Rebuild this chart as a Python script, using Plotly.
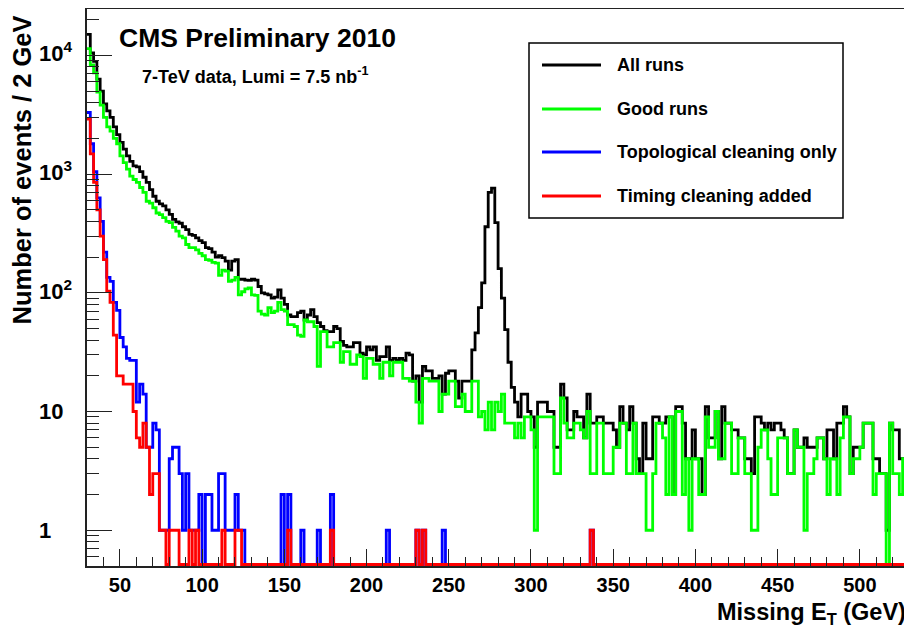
import math
import plotly.graph_objects as go

# ---------------- data ----------------
BIN_START = 30      # GeV, low edge of first bin
BIN_WIDTH = 2       # GeV
N_BINS = 250

series_names = ["All runs", "Good runs", "Topological cleaning only", "Timing cleaning added"]

all_runs = [
    15000, 10500, 8900, 6300, 5000, 3900, 3400, 3000, 2500, 2150,
    1850, 1620, 1420, 1280, 1170, 1150, 1050, 940, 850, 740,
    650, 590, 560, 540, 500, 458, 415, 395, 385, 360,
    340, 310, 305, 290, 275, 265, 240, 235, 220, 200,
    205, 198, 185, 155, 185, 190, 130, 130, 128, 127,
    130, 128, 113, 100, 98, 96, 90, 92, 106, 90,
    80, 65, 63, 63, 68, 70, 59, 65, 72, 63,
    56, 52, 48, 47, 47, 52, 50, 39, 36, 35,
    35, 38, 38, 31, 30, 35, 33, 35, 27, 29,
    29, 35, 27, 28, 27, 28, 27, 31, 30, 18,
    20, 12, 24, 22, 22, 19, 19, 20, 14, 21,
    22, 22, 18, 13, 18, 18, 18, 33, 46, 75,
    121, 360, 700, 760, 390, 160, 90, 49, 26, 16,
    12, 9, 14, 14, 10, 9, 5, 12, 12, 12,
    10, 10, 5, 5, 17, 13, 7, 7, 10, 9,
    9, 6, 14, 8, 8, 9, 9, 8, 8, 8,
    7, 5, 11, 8, 7, 11, 8, 4, 3, 8,
    4, 4, 9, 9, 8, 8, 9, 9, 2, 11,
    11, 8, 4, 4, 7, 4, 4, 2, 11, 6,
    6, 10, 4, 11, 8, 8, 7, 7, 6, 6,
    4, 4, 3, 9, 9, 8, 7, 8, 7, 8,
    8, 7, 6, 3, 3, 7, 5, 5, 6, 5,
    5, 5, 6, 6, 4, 7, 7, 4, 8, 8,
    11, 9, 3, 5, 5, 5, 8, 8, 8, 4,
    4, 3, 3, 1, 8, 7, 7, 4, 4, 4,
]

good_runs = [
    11400, 8300, 7100, 4900, 3800, 3000, 2500, 2300, 2000, 1800,
    1420, 1250, 1100, 960, 900, 850, 770, 700, 590, 570,
    520, 470, 455, 430, 400, 390, 355, 330, 300, 290,
    255, 240, 240, 230, 215, 205, 190, 188, 180, 178,
    140, 155, 152, 125, 128, 135, 96, 102, 108, 110,
    96, 95, 70, 66, 65, 75, 68, 70, 83, 72,
    70, 54, 54, 52, 44, 43, 59, 57, 57, 52,
    24, 47, 47, 35, 35, 38, 38, 26, 32, 32,
    25, 25, 30, 29, 19, 28, 28, 25, 25, 19,
    26, 26, 20, 26, 26, 26, 19, 19, 18, 18,
    12, 8, 19, 19, 18, 18, 18, 10, 14, 14,
    18, 18, 11, 11, 14, 10, 10, 18, 18, 9,
    10, 7, 12, 7, 12, 10, 14, 8, 8, 8,
    6, 8, 6, 9, 9, 7, 1, 9, 9, 9,
    9, 9, 3, 3, 13, 8, 6, 6, 8, 8,
    7, 6, 10, 3, 3, 8, 8, 3, 3, 3,
    5, 5, 8, 8, 3, 3, 8, 3, 3, 3,
    1, 1, 3, 8, 8, 6, 2, 9, 2, 10,
    10, 2, 4, 1, 4, 4, 2, 2, 9, 5,
    5, 10, 4, 4, 8, 8, 3, 3, 6, 6,
    3, 3, 1, 1, 5, 7, 7, 4, 2, 2,
    6, 6, 6, 3, 3, 7, 5, 5, 1, 3,
    3, 4, 6, 6, 4, 2, 4, 4, 2, 6,
    9, 9, 3, 4, 4, 5, 8, 8, 8, 2,
    3, 3, 3, 0, 8, 3, 3, 2, 4, 4,
]

# dense part (first bins) + sparse tail {bin low edge in GeV: count}
topo_head = [
    3300, 1800, 1050, 630, 400, 220, 135, 125, 83, 71,
    42, 35, 28, 27, 27, 12, 17, 14, 5, 5,
    8, 7, 1, 1, 1, 4, 5, 5, 3, 1,
    3, 1, 1, 1, 2, 0, 2, 2, 1, 1,
    3, 3, 1, 1, 1, 2, 1, 1,
]
topo_tail = {148: 2, 152: 2, 160: 1, 170: 1, 178: 2, 212: 1,
             230: 1, 234: 1, 246: 1, 336: 1, 528: 1}

timing_head = [
    2900, 1480, 850, 500, 300, 190, 103, 83, 44, 20,
    20, 17, 17, 17, 10, 6, 5, 8, 5, 2,
    3, 3, 1, 1, 0, 1, 1, 1, 0, 0,
    0, 1, 0, 1, 0, 0, 0, 0, 0, 0,
    0, 1, 0, 0, 0, 1, 1,
]
timing_tail = {152: 1, 178: 1, 230: 1, 234: 1, 336: 1, 528: 1}

x_tick_vals = [50, 100, 150, 200, 250, 300, 350, 400, 450, 500]
y_tick_vals = [1, 10, 100, 1000, 10000]
y_tick_text = ["1", "10", "10<sup>2</sup>", "10<sup>3</sup>", "10<sup>4</sup>"]

# ---------------- helpers ----------------
Y_MIN, Y_MAX_LOG = 0.5, 4.39
ZERO_DRAW = 0.515          # empty bins drawn just on the lower frame edge (ROOT style)
X_RANGE = [30, 530.5]


def expand(head, tail):
    vals = list(head) + [0] * (N_BINS - len(head))
    for lo, c in tail.items():
        vals[(lo - BIN_START) // BIN_WIDTH] = c
    return vals


edges = [BIN_START + BIN_WIDTH * i for i in range(N_BINS + 1)]


def step_y(vals):
    y = [v if v > 0 else ZERO_DRAW for v in vals]
    return y + [y[-1]]


# page body has an 8px default margin: figure is placed at (8, 8) in the window
OFF = 8
W, H = 912 - OFF, 628 - OFF
PL, PR, PT, PB = 87, 910, 9, 566     # plot frame in window pixels


def px(x):
    return (x - PL) / (PR - PL)


def py(y):
    return 1 - (y - PT) / (PB - PT)


FONT = "Liberation Sans, Arial, Helvetica, sans-serif"
colors = ["#000000", "#00ff00", "#0000ff", "#ff0000"]
data = [all_runs, good_runs, expand(topo_head, topo_tail), expand(timing_head, timing_tail)]

fig = go.Figure()
for name, vals, col in zip(series_names, data, colors):
    fig.add_trace(go.Scatter(
        x=edges, y=step_y(vals), mode="lines", name=name,
        line=dict(color=col, width=2.8, shape="hv"),
        hoverinfo="skip", showlegend=False,
    ))

y_minor = [k * 10 ** d for d in range(-1, 5) for k in range(2, 10)]
y_minor = [v for v in y_minor if Y_MIN <= v <= 10 ** Y_MAX_LOG and v not in y_tick_vals]

fig.update_layout(
    width=W, height=H,
    margin=dict(l=PL - OFF, r=912 - PR, t=PT - OFF, b=628 - PB),
    paper_bgcolor="white", plot_bgcolor="white",
    showlegend=False,
    xaxis=dict(
        range=X_RANGE, showgrid=False, zeroline=False, automargin=False,
        showline=True, mirror=True, linecolor="#222222", linewidth=1.5,
        ticks="inside", ticklen=17, tickwidth=1.3, tickcolor="#222222",
        tickvals=x_tick_vals, ticklabelstandoff=0,
        tickfont=dict(family=FONT, size=20, color="black", weight="bold"),
        minor=dict(dtick=10, ticks="inside", ticklen=9, tickwidth=1.2, tickcolor="#222222", showgrid=False),
    ),
    yaxis=dict(
        type="log", range=[math.log10(Y_MIN), Y_MAX_LOG],
        showgrid=False, zeroline=False, automargin=False,
        showline=True, mirror=True, linecolor="#222222", linewidth=1.5,
        ticks="inside", ticklen=25, tickwidth=1.3, tickcolor="#222222",
        tickvals=y_tick_vals, showticklabels=False,
        minor=dict(tickvals=y_minor, ticks="inside", ticklen=12, tickwidth=1.2, tickcolor="#222222", showgrid=False),
    ),
)

ann = []
# y tick labels, left-aligned as in the ROOT canvas
for v, t in zip(y_tick_vals, y_tick_text):
    ann.append(dict(text=t, x=px(37), y=math.log10(v), xref="paper", yref="y",
                    xanchor="left", yanchor="middle", showarrow=False,
                    yshift=3 if "sup" in t else 0,
                    font=dict(family=FONT, size=22, color="black", weight="bold")))

ann.append(dict(text="CMS Preliminary 2010", x=px(117), y=py(38), xref="paper", yref="paper",
                xanchor="left", yanchor="middle", showarrow=False,
                font=dict(family=FONT, size=26.5, color="black", weight="bold")))
ann.append(dict(text="7-TeV data, Lumi = 7.5 nb<sup>-1</sup>", x=px(140), y=py(76), xref="paper", yref="paper",
                xanchor="left", yanchor="middle", showarrow=False,
                font=dict(family=FONT, size=18, color="black", weight="bold")))
ann.append(dict(text="Missing E<sub>T</sub> (GeV)", x=px(908), y=py(613), xref="paper", yref="paper",
                xanchor="right", yanchor="middle", showarrow=False,
                font=dict(family=FONT, size=23.5, color="black", weight="bold")))
ann.append(dict(text="Number of events / 2 GeV", x=px(21), y=py(14), xref="paper", yref="paper",
                xanchor="center", yanchor="top", textangle=-90, showarrow=False,
                font=dict(family=FONT, size=25.5, color="black", weight="bold")))

# legend box (ROOT TLegend style)
shapes = [dict(type="rect", xref="paper", yref="paper", x0=px(529), x1=px(843), y0=py(218), y1=py(43),
               line=dict(color="black", width=1.5), fillcolor="white", layer="below")]
row_y = [65, 109, 152, 196]
for name, col, ry in zip(series_names, colors, row_y):
    shapes.append(dict(type="line", xref="paper", yref="paper", x0=px(542), x1=px(601), y0=py(ry), y1=py(ry),
                       line=dict(color=col, width=2.8)))
    ann.append(dict(text=name, x=px(615), y=py(ry), xref="paper", yref="paper",
                    xanchor="left", yanchor="middle", showarrow=False,
                    font=dict(family=FONT, size=18, color="black", weight="bold")))

fig.update_layout(annotations=ann, shapes=shapes)
fig.write_html("out.html")
